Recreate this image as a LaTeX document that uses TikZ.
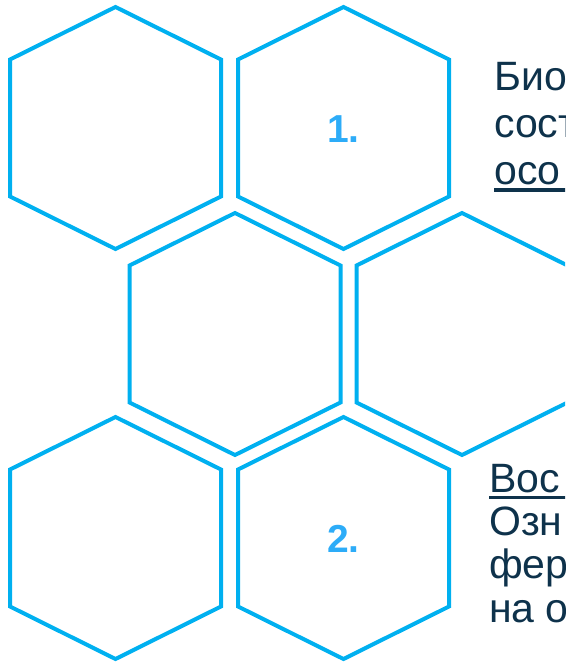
\documentclass[tikz,border=0pt]{standalone}
\usepackage{fontspec}
\setmainfont{Liberation Sans}
\usetikzlibrary{positioning}
\definecolor{hexcyan}{RGB}{0,176,240}
\definecolor{numblue}{RGB}{45,172,248}
\definecolor{textnavy}{RGB}{14,50,75}
\tikzset{
  hexline/.style={draw=hexcyan, line width=4pt},
  hexcell/.pic={
    \draw[hexline] (0,-121) -- (105.5,-68.5) -- (105.5,68.5) -- (0,121)
      -- (-105.5,68.5) -- (-105.5,-68.5) -- cycle;
  },
  numlabel/.style={font=\fontsize{39}{42}\selectfont\bfseries, text=numblue},
  bodytext/.style={anchor=base west, inner sep=0pt,
    font=\fontsize{41}{47}\selectfont, text=textnavy},
  ulrule/.style={draw=textnavy, line width=3.5pt}
}

\begin{document}
\begin{tikzpicture}[x=1pt,y=-1pt]
  \useasboundingbox (0,0) rectangle (565,663);
  \clip (0,0) rectangle (565,663);

  % --- honeycomb ---
  \foreach \cx/\cy in {115.5/128, 343.5/128, 235/334, 462/334, 115.5/538, 343.5/538}
    \pic at (\cx,\cy) {hexcell};

  % --- numbers ---
  \node[numlabel] (num1) at (343.5,129) {1.};
  \node[numlabel] (num2) at (343.5,539) {2.};

  % --- first block ---
  \node[bodytext] (bio) at (494,91) {Био};
  \node[bodytext] (sost) at (494,137.5) {сост};
  \node[bodytext] (oso) at (494,184) {осо};
  \draw[ulrule] ([yshift=-6pt]oso.base west) -- ++(80,0);

  % --- second block ---
  \node[bodytext] (vos) at (489,492) {Вос};
  \draw[ulrule] ([yshift=-5.5pt]vos.base west) -- ++(85,0);
  \node[bodytext] (ozn) at (489,535) {Озн};
  \node[bodytext] (fer) at (489,578) {фер};
  \node[bodytext] (nao) at (489,622) {на о};

\end{tikzpicture}
\end{document}
